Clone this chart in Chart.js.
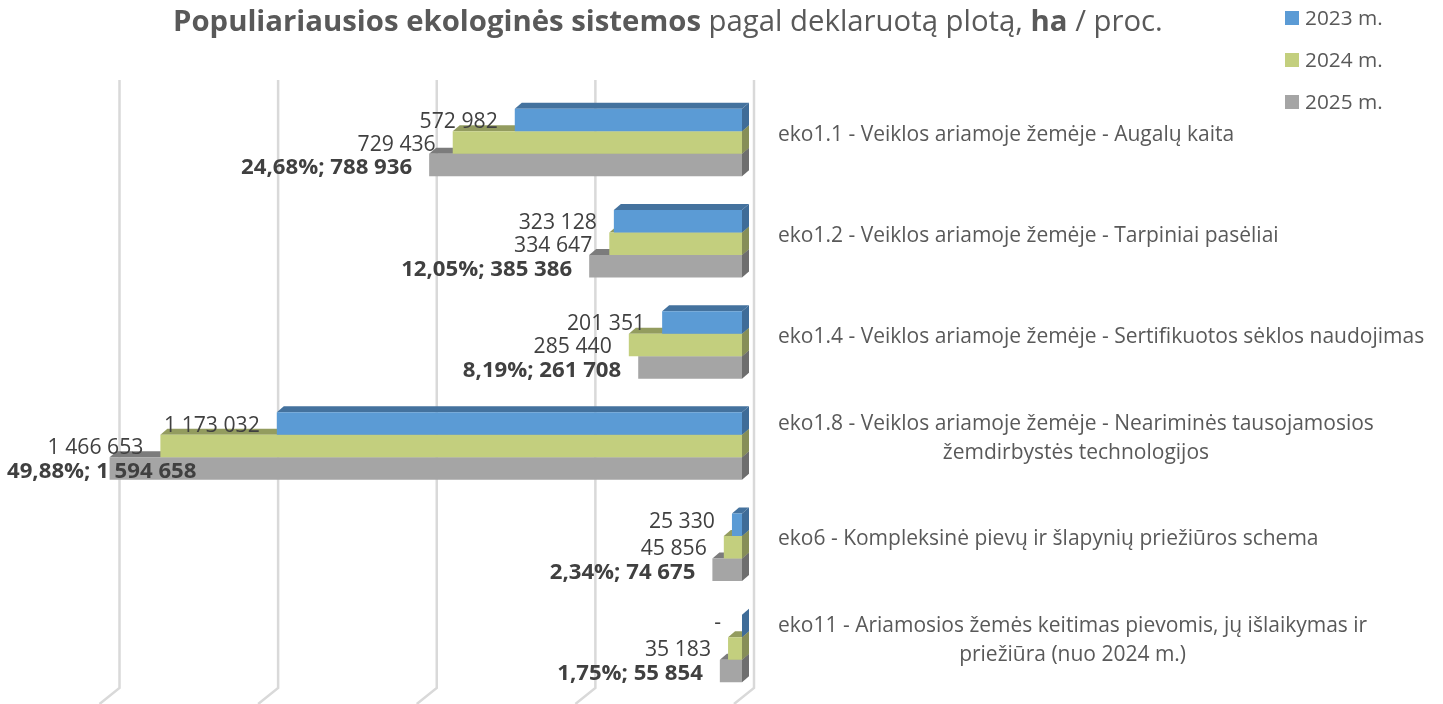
<!DOCTYPE html>
<html lang="lt">
<head>
    <meta charset="UTF-8">
    <title>Populiariausios ekologinės sistemos</title>
    <script src="https://cdn.jsdelivr.net/npm/chart.js"></script>
    <style>
        html, body { margin: 0; padding: 0; background: #fff; }
        canvas { display: block; }
    </style>
</head>
<body>
    <canvas id="ecoChart" width="1443" height="704"></canvas>

    <script>
        const categories = [
            'eko1.1 - Veiklos ariamoje žemėje - Augalų kaita',
            'eko1.2 - Veiklos ariamoje žemėje - Tarpiniai pasėliai',
            'eko1.4 - Veiklos ariamoje žemėje - Sertifikuotos sėklos naudojimas',
            ['eko1.8 - Veiklos ariamoje žemėje - Neariminės tausojamosios', 'žemdirbystės technologijos'],
            'eko6 - Kompleksinė pievų ir šlapynių priežiūros schema',
            ['eko11 - Ariamosios žemės keitimas pievomis, jų išlaikymas ir', 'priežiūra (nuo 2024 m.)']
        ];
        const values2023 = [572982, 323128, 201351, 1173032, 25330, 0];
        const values2024 = [729436, 334647, 285440, 1466653, 45856, 35183];
        const values2025 = [788936, 385386, 261708, 1594658, 74675, 55854];
        const percent2025 = ['24,68%', '12,05%', '8,19%', '49,88%', '2,34%', '1,75%'];
        const seriesNames = ['2023 m.', '2024 m.', '2025 m.'];
        const titleParts = [
            ['Populiariausios ekologinės sistemos', true],
            [' pagal deklaruotą plotą, ', false],
            ['ha', true],
            [' / proc.', false]
        ];

        const frontColors = ['#5B9BD5', '#C3CF7E', '#A5A5A5'];
        const topColors = ['#44729E', '#939C5F', '#7C7C7C'];
        const sideColors = ['#3F6C98', '#868E58', '#6E6E6E'];
        const FONT = '"Open Sans"';
        const DEPTH_X = 7, DEPTH_Y = 6;

        function formatNumber(v) {
            if (v === 0) return '-';
            return String(v).replace(/\B(?=(\d{3})+$)/g, ' ');
        }

        function fillPoly(ctx, color, pts) {
            ctx.fillStyle = color;
            ctx.beginPath();
            ctx.moveTo(pts[0][0], pts[0][1]);
            for (let i = 1; i < pts.length; i++) ctx.lineTo(pts[i][0], pts[i][1]);
            ctx.closePath();
            ctx.fill();
        }

        // back wall grid lines with the bent floor part
        const gridPlugin = {
            id: 'backGrid',
            beforeDatasetsDraw(chart) {
                const ctx = chart.ctx, xs = chart.scales.x;
                ctx.save();
                ctx.strokeStyle = '#D9D9D9';
                ctx.lineWidth = 2.5;
                xs.ticks.forEach(t => {
                    const x = xs.getPixelForValue(t.value) + 12;
                    ctx.beginPath();
                    ctx.moveTo(x, 80);
                    ctx.lineTo(x, 688);
                    ctx.lineTo(x - 20, 704);
                    ctx.stroke();
                });
                ctx.restore();
            }
        };

        // top and side faces of the 3D bars, the front is the normal bar
        const facesPlugin = {
            id: 'barFaces',
            beforeDatasetDraw(chart, args) {
                const ctx = chart.ctx, s = args.index;
                ctx.save();
                chart.getDatasetMeta(s).data.forEach(bar => {
                    const left = bar.x, right = bar.base;
                    const top = bar.y - bar.height / 2, bottom = bar.y + bar.height / 2;
                    fillPoly(ctx, topColors[s], [[left, top], [left + DEPTH_X, top - DEPTH_Y], [right + DEPTH_X, top - DEPTH_Y], [right, top]]);
                    fillPoly(ctx, sideColors[s], [[right, top], [right + DEPTH_X, top - DEPTH_Y], [right + DEPTH_X, bottom - DEPTH_Y], [right, bottom]]);
                });
                ctx.restore();
            }
        };

        const textPlugin = {
            id: 'chartTexts',
            afterDatasetsDraw(chart) {
                const ctx = chart.ctx;
                ctx.save();
                ctx.textBaseline = 'middle';

                // value labels, the two lowest 2023 labels sit a bit higher in the original
                const nudges = [2, 2, 3];
                chart.data.datasets.forEach((ds, s) => {
                    chart.getDatasetMeta(s).data.forEach((bar, i) => {
                        let text = formatNumber(ds.data[i]);
                        if (s === 2) text = percent2025[i] + '; ' + text;
                        ctx.font = s === 2 ? 'bold 22.2px ' + FONT : '21.2px ' + FONT;
                        ctx.fillStyle = '#404040';
                        ctx.textAlign = 'right';
                        const w = ctx.measureText(text).width;
                        const lift = s === 0 && i >= 4 ? 5 : 0;
                        const gap = ds.data[i] === 0 ? 21 : 17;
                        ctx.fillText(text, Math.max(bar.x - gap, 7 + w), bar.y + nudges[s] - lift);
                    });
                });

                // category labels on the right
                const ys = chart.scales.y;
                ctx.fillStyle = '#595959';
                ctx.font = '21px ' + FONT;
                categories.forEach((label, i) => {
                    const y = ys.getPixelForValue(i) - 8;
                    if (Array.isArray(label)) {
                        const cx = 778 + ctx.measureText(label[0]).width / 2;
                        ctx.textAlign = 'center';
                        ctx.fillText(label[0], cx, y - 14.5);
                        ctx.fillText(label[1], cx, y + 14.5);
                    } else {
                        ctx.textAlign = 'left';
                        ctx.fillText(label, 778, y);
                    }
                });

                // legend
                ctx.textAlign = 'left';
                ctx.font = '20.8px ' + FONT;
                seriesNames.forEach((name, i) => {
                    const y = 18 + i * 42;
                    ctx.fillStyle = frontColors[i];
                    ctx.fillRect(1285, y - 7, 14, 14);
                    ctx.fillStyle = '#595959';
                    ctx.fillText(name, 1305, y + 1);
                });

                // title, bold and normal parts in one line
                let x = 173;
                titleParts.forEach(([text, bold]) => {
                    ctx.font = (bold ? 'bold ' : '') + '29.33px ' + FONT;
                    ctx.fillText(text, x, 23);
                    x += ctx.measureText(text).width;
                });
                ctx.restore();
            }
        };

        new Chart(document.getElementById('ecoChart'), {
            type: 'bar',
            data: {
                labels: categories,
                datasets: [values2023, values2024, values2025].map((vals, i) => ({
                    label: seriesNames[i],
                    data: vals,
                    backgroundColor: frontColors[i],
                    borderWidth: 0,
                    categoryPercentage: 0.667,
                    barPercentage: 1
                }))
            },
            options: {
                indexAxis: 'y',
                responsive: false,
                animation: false,
                layout: { padding: { left: 107.5, right: 701, top: 92, bottom: 5 } },
                plugins: { legend: { display: false }, title: { display: false }, tooltip: { enabled: false } },
                scales: {
                    x: {
                        display: false,
                        reverse: true, min: 0, max: 1600000,
                        ticks: { stepSize: 400000 },
                        grid: { display: false }
                    },
                    y: {
                        display: false,
                        grid: { display: false }
                    }
                }
            },
            plugins: [gridPlugin, facesPlugin, textPlugin]
        });
    </script>
</body>
</html>
